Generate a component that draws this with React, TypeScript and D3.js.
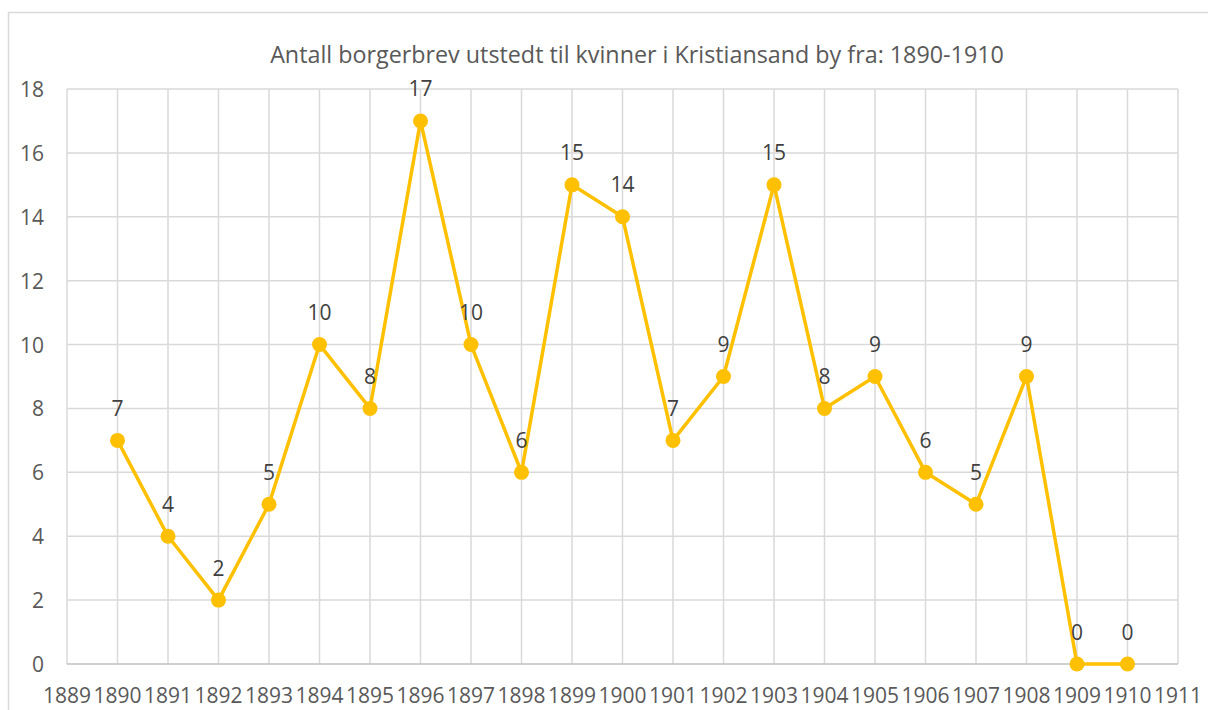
import React from "react";
import * as d3 from "d3";

const years: number[] = [1890, 1891, 1892, 1893, 1894, 1895, 1896, 1897, 1898, 1899, 1900, 1901, 1902, 1903, 1904, 1905, 1906, 1907, 1908, 1909, 1910];
const counts: number[] = [7, 4, 2, 5, 10, 8, 17, 10, 6, 15, 14, 7, 9, 15, 8, 9, 6, 5, 9, 0, 0];
const xTicks: number[] = d3.range(1889, 1912);
const yTicks: number[] = [0, 2, 4, 6, 8, 10, 12, 14, 16, 18];
const title = "Antall borgerbrev utstedt til kvinner i Kristiansand by fra: 1890-1910";

const W = 1208;
const H = 710;
const left = 67;
const right = 1178;
const top = 89;
const bottom = 664;
const font = "'Open Sans', sans-serif";

export default function App() {
  const x = d3.scaleLinear().domain([1889, 1911]).range([left, right]);
  const y = d3.scaleLinear().domain([0, 18]).range([bottom, top]);
  const pts = years.map((yr, i) => ({ yr, v: counts[i] }));
  const line = d3
    .line<{ yr: number; v: number }>()
    .x((d) => x(d.yr))
    .y((d) => y(d.v));

  return (
    <svg
      width={W}
      height={H}
      style={{ position: "absolute", left: 0, top: 0, background: "#fff" }}
    >
      <rect x={8.5} y={12.5} width={W + 20} height={H + 20} fill="#fff" stroke="#d9d9d9" strokeWidth={1.5} />
      <text x={637} y={63} textAnchor="middle" fontFamily={font} fontSize={23.3} fill="#595959">
        {title}
      </text>
      {yTicks.map((t) => (
        <g key={"y" + t}>
          {t !== 0 && (
            <line x1={left} x2={right} y1={y(t)} y2={y(t)} stroke="#d9d9d9" strokeWidth={1.5} />
          )}
          <text x={44} y={y(t) + 8} textAnchor="end" fontFamily={font} fontSize={21} fill="#595959">
            {t}
          </text>
        </g>
      ))}
      {xTicks.map((t) => (
        <g key={"x" + t}>
          <line x1={x(t)} x2={x(t)} y1={top} y2={bottom} stroke="#d9d9d9" strokeWidth={1.5} />
          <text x={x(t)} y={703} textAnchor="middle" fontFamily={font} fontSize={21} fill="#595959">
            {t}
          </text>
        </g>
      ))}
      <line x1={left} x2={right} y1={bottom} y2={bottom} stroke="#bfbfbf" strokeWidth={1.5} />
      <path d={line(pts) || ""} fill="none" stroke="#ffc000" strokeWidth={3.5} strokeLinejoin="round" />
      {pts.map((d) => (
        <circle key={"c" + d.yr} cx={x(d.yr)} cy={y(d.v)} r={7.5} fill="#ffc000" />
      ))}
      {pts.map((d) => (
        <text
          key={"l" + d.yr}
          x={x(d.yr)}
          y={y(d.v) - 24.5}
          textAnchor="middle"
          fontFamily={font}
          fontSize={21}
          fill="#404040"
        >
          {d.v}
        </text>
      ))}
    </svg>
  );
}
